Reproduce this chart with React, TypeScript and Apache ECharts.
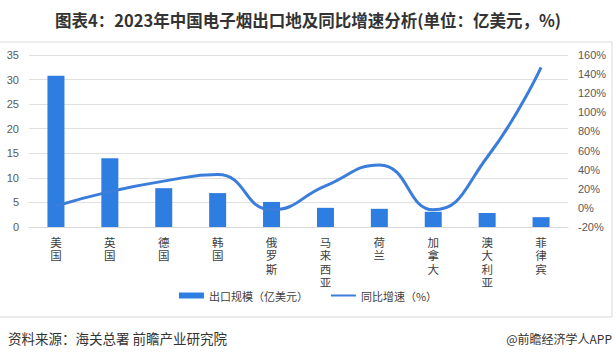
import React, { useEffect, useRef } from "react";
import * as echarts from "echarts";

const categories = ["美国", "英国", "德国", "韩国", "俄罗斯", "马来西亚", "荷兰", "加拿大", "澳大利亚", "菲律宾"];
const exportValues = [30.8, 14.0, 7.9, 6.9, 5.1, 3.9, 3.7, 3.1, 2.85, 2.0];
const growthValues = [2, 17, 28, 35, -2, 23, 45, -2, 53, 147];
const leftTicks = { min: 0, max: 35, interval: 5 };
const rightTicks = { min: -20, max: 160, interval: 20 };

const TITLE = "图表4：2023年中国电子烟出口地及同比增速分析(单位：亿美元，%)";
const SOURCE = "资料来源：海关总署 前瞻产业研究院";
const BRAND = "@前瞻经济学人APP";

export default function App() {
  const ref = useRef<HTMLDivElement>(null);
  useEffect(() => {
    if (!ref.current) return;
    const chart = echarts.init(ref.current, undefined, { renderer: "svg" });
    const font = "'Noto Sans CJK SC', 'Microsoft YaHei', sans-serif";
    chart.setOption({
      animation: false,
      backgroundColor: "#ffffff",
      textStyle: { fontFamily: font },
      grid: { left: 29, right: 48, top: 55, bottom: 131 },
      legend: {
        bottom: 52,
        left: "center",
        itemWidth: 25,
        itemHeight: 6,
        itemGap: 22,
        textStyle: { fontSize: 11, color: "#404040", fontFamily: font },
        data: [
          { name: "出口规模（亿美元）", icon: "rect" },
          { name: "同比增速（%）", itemStyle: { opacity: 0, borderWidth: 0 } },
        ],
      },
      xAxis: {
        type: "category",
        data: categories,
        axisLine: { lineStyle: { color: "#d9d9d9" } },
        axisTick: { show: false },
        axisLabel: {
          interval: 0,
          margin: 8,
          fontSize: 11.5,
          lineHeight: 13.5,
          color: "#404040",
          formatter: (v: string) => v.split("").join("\n"),
        },
      },
      yAxis: [
        {
          type: "value",
          min: leftTicks.min,
          max: leftTicks.max,
          interval: leftTicks.interval,
          axisLine: { show: false },
          axisTick: { show: false },
          axisLabel: { fontSize: 11, color: "#595959", margin: 10, fontFamily: "'Liberation Sans', Arial, sans-serif" },
          splitLine: { lineStyle: { color: "#e0e0e0" } },
        },
        {
          type: "value",
          min: rightTicks.min,
          max: rightTicks.max,
          interval: rightTicks.interval,
          axisLine: { show: false },
          axisTick: { show: false },
          axisLabel: { fontSize: 11, color: "#595959", margin: 10, formatter: "{value}%", fontFamily: "'Liberation Sans', Arial, sans-serif" },
          splitLine: { show: false },
        },
      ],
      series: [
        {
          name: "出口规模（亿美元）",
          type: "bar",
          data: exportValues,
          barWidth: 17,
          itemStyle: { color: "#2E7DE1" },
        },
        {
          name: "同比增速（%）",
          type: "line",
          yAxisIndex: 1,
          data: growthValues,
          smooth: true,
          symbol: "none",
          lineStyle: { width: 3, color: "#3A7DDB" },
          itemStyle: { color: "#3A7DDB" },
        },
      ],
      graphic: [
        {
          type: "rect",
          shape: { x: -1, y: 42, width: 613, height: 275 },
          style: { fill: "none", stroke: "#d9d9d9", lineWidth: 1 },
          silent: true,
        },
        {
          type: "text",
          x: 308,
          y: 20,
          style: {
            text: TITLE,
            fontSize: 16.5,
            fontWeight: "bold",
            fill: "#333333",
            fontFamily: font,
            align: "center",
            verticalAlign: "middle",
          },
        },
        {
          type: "text",
          x: 8,
          y: 338,
          style: { text: SOURCE, fontSize: 13.5, fill: "#333333", fontFamily: font, verticalAlign: "middle" },
        },
        {
          type: "text",
          x: 612,
          y: 338,
          style: { text: BRAND, fontSize: 12, fill: "#333333", fontFamily: font, align: "right", verticalAlign: "middle" },
        },
      ],
    });
    return () => chart.dispose();
  }, []);
  return <div ref={ref} style={{ position: "fixed", left: 0, top: 0, width: 616, height: 358 }} />;
}
